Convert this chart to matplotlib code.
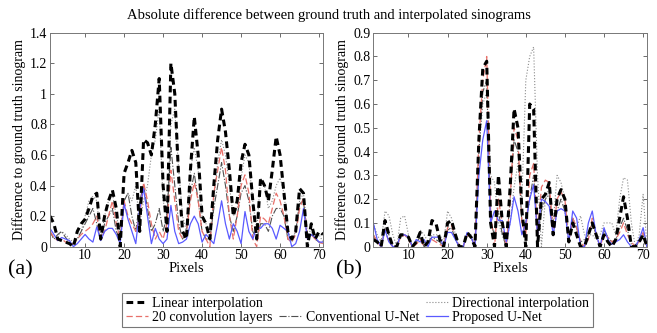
import numpy as np
import matplotlib
matplotlib.use("Agg")
from matplotlib import pyplot as plt
from matplotlib.lines import Line2D

plt.rcParams['font.family'] = ['Liberation Serif', 'DejaVu Serif']

pixels = np.arange(1, 72)

# panel (a)
linear_a = [0.2, 0.15, 0.05, 0.04, 0.03, 0.02, 0.0, 0.1, 0.15, 0.18,
            0.25, 0.33, 0.35, 0.05, 0.2, 0.3, 0.37, 0.25, 0.0, 0.48,
            0.55, 0.63, 0.55, 0.1, 0.7, 0.68, 0.6, 0.8, 1.1, 0.4,
            0.1, 1.2, 1.0, 0.45, 0.1, 0.05, 0.5, 0.85, 0.6, 0.2,
            0.15, 0.05, 0.4, 0.7, 0.9, 0.75, 0.5, 0.2, 0.3, 0.55,
            0.67, 0.6, 0.3, 0.05, 0.45, 0.4, 0.3, 0.5, 0.72, 0.6,
            0.35, 0.1, 0.05, 0.1, 0.38, 0.35, 0.0, 0.15, 0.05, 0.1, 0.08]
directional_a = [0.1, 0.05, 0.07, 0.1, 0.08, 0.05, 0.03, 0.05, 0.1, 0.2,
                 0.3, 0.33, 0.3, 0.05, 0.2, 0.3, 0.35, 0.2, 0.1, 0.3,
                 0.35, 0.3, 0.4, 0.15, 0.3, 0.4, 0.6, 0.7, 0.9, 0.3,
                 0.2, 0.8, 0.9, 0.5, 0.2, 0.1, 0.5, 0.65, 0.5, 0.2,
                 0.15, 0.1, 0.3, 0.55, 0.7, 0.6, 0.4, 0.2, 0.25, 0.45,
                 0.6, 0.55, 0.3, 0.1, 0.45, 0.4, 0.25, 0.3, 0.4, 0.45,
                 0.35, 0.1, 0.05, 0.1, 0.3, 0.35, 0.1, 0.1, 0.05, 0.08, 0.03]
conv20_a = [0.1, 0.06, 0.04, 0.05, 0.03, 0.02, 0.02, 0.05, 0.08, 0.1,
            0.12, 0.15, 0.2, 0.05, 0.1, 0.2, 0.3, 0.15, 0.05, 0.3,
            0.2, 0.15, 0.1, 0.2, 0.42, 0.3, 0.15, 0.05, 0.1, 0.05,
            0.15, 0.5, 0.3, 0.1, 0.05, 0.1, 0.3, 0.42, 0.3, 0.1,
            0.05, 0.0, 0.35, 0.5, 0.65, 0.5, 0.2, 0.05, 0.2, 0.4,
            0.47, 0.35, 0.05, 0.0, 0.2, 0.18, 0.15, 0.25, 0.35, 0.3,
            0.2, 0.05, 0.03, 0.08, 0.25, 0.32, 0.05, 0.08, 0.05, 0.03, 0.02]
unet_a = [0.1, 0.05, 0.08, 0.1, 0.06, 0.03, 0.02, 0.05, 0.1, 0.15,
          0.2, 0.25, 0.15, 0.05, 0.15, 0.2, 0.25, 0.1, 0.05, 0.3,
          0.35, 0.2, 0.1, 0.3, 0.4, 0.25, 0.1, 0.15, 0.25, 0.1,
          0.2, 0.65, 0.4, 0.15, 0.05, 0.1, 0.35, 0.48, 0.3, 0.1,
          0.05, 0.05, 0.25, 0.4, 0.55, 0.4, 0.2, 0.1, 0.2, 0.35,
          0.4, 0.3, 0.1, 0.05, 0.15, 0.15, 0.1, 0.2, 0.25, 0.25,
          0.2, 0.05, 0.03, 0.1, 0.28, 0.3, 0.05, 0.08, 0.05, 0.03, 0.02]
proposed_a = [0.12, 0.08, 0.04, 0.06, 0.05, 0.04, 0.0, 0.02, 0.05, 0.08,
              0.05, 0.03, 0.13, 0.04, 0.1, 0.12, 0.12, 0.08, 0.02, 0.28,
              0.18, 0.1, 0.02, 0.25, 0.38, 0.2, 0.02, 0.12, 0.05, 0.02,
              0.05, 0.27, 0.1, 0.02, 0.03, 0.05, 0.15, 0.2, 0.15, 0.03,
              0.08, 0.05, 0.02, 0.15, 0.3, 0.15, 0.05, 0.15, 0.1, 0.02,
              0.23, 0.1, 0.05, 0.13, 0.12, 0.15, 0.15, 0.12, 0.05, 0.14,
              0.12, 0.1, 0.0, 0.02, 0.1, 0.25, 0.05, 0.08, 0.06, 0.03, 0.03]

# panel (b)
linear_b = [0.03, 0.02, 0.0, 0.11, 0.05, 0.0, 0.0, 0.05, 0.05, 0.04,
            0.0, 0.02, 0.06, 0.0, 0.02, 0.11, 0.1, 0.03, 0.0, 0.1,
            0.11, 0.05, 0.0, 0.0, 0.06, 0.04, 0.0, 0.45, 0.75, 0.78,
            0.1, 0.0, 0.3, 0.1, 0.0, 0.25, 0.58, 0.5, 0.15, 0.0,
            0.6, 0.58, 0.0, 0.2, 0.22, 0.27, 0.05, 0.2, 0.24, 0.2,
            0.02, 0.1, 0.05, 0.0, 0.0, 0.05, 0.1, 0.05, 0.0, 0.05,
            0.02, 0.0, 0.03, 0.12, 0.21, 0.12, 0.0, 0.0, 0.02, 0.05, 0.0]
directional_b = [0.1, 0.05, 0.02, 0.15, 0.13, 0.05, 0.0, 0.12, 0.13, 0.05,
                 0.0, 0.03, 0.07, 0.05, 0.02, 0.05, 0.05, 0.05, 0.02, 0.15,
                 0.12, 0.05, 0.0, 0.0, 0.05, 0.05, 0.0, 0.4, 0.6, 0.65,
                 0.3, 0.27, 0.1, 0.05, 0.02, 0.1, 0.25, 0.35, 0.2, 0.7,
                 0.8, 0.84, 0.3, 0.0, 0.2, 0.25, 0.1, 0.3, 0.27, 0.2,
                 0.05, 0.1, 0.08, 0.13, 0.05, 0.05, 0.05, 0.03, 0.05, 0.1,
                 0.1, 0.1, 0.05, 0.2, 0.29, 0.28, 0.1, 0.0, 0.05, 0.22, 0.0]
conv20_b = [0.05, 0.02, 0.0, 0.07, 0.02, 0.0, 0.0, 0.04, 0.05, 0.03,
            0.0, 0.01, 0.03, 0.0, 0.02, 0.03, 0.02, 0.01, 0.0, 0.08,
            0.09, 0.04, 0.0, 0.0, 0.05, 0.04, 0.0, 0.45, 0.7, 0.8,
            0.15, 0.0, 0.2, 0.1, 0.0, 0.2, 0.5, 0.45, 0.1, 0.05,
            0.3, 0.35, 0.05, 0.25, 0.28, 0.27, 0.05, 0.2, 0.23, 0.2,
            0.02, 0.12, 0.08, 0.02, 0.0, 0.03, 0.12, 0.05, 0.0, 0.05,
            0.04, 0.02, 0.03, 0.06, 0.1, 0.05, 0.02, 0.0, 0.02, 0.06, 0.0]
unet_b = [0.05, 0.02, 0.0, 0.08, 0.05, 0.0, 0.0, 0.05, 0.05, 0.04,
          0.0, 0.02, 0.04, 0.0, 0.02, 0.04, 0.03, 0.02, 0.0, 0.07,
          0.08, 0.03, 0.0, 0.0, 0.05, 0.04, 0.0, 0.4, 0.65, 0.7,
          0.1, 0.05, 0.15, 0.05, 0.0, 0.2, 0.45, 0.4, 0.1, 0.1,
          0.2, 0.3, 0.05, 0.15, 0.2, 0.22, 0.05, 0.15, 0.2, 0.15,
          0.02, 0.12, 0.08, 0.02, 0.03, 0.05, 0.1, 0.05, 0.0, 0.07,
          0.04, 0.02, 0.03, 0.08, 0.12, 0.07, 0.01, 0.0, 0.02, 0.05, 0.0]
proposed_b = [0.1, 0.03, 0.0, 0.07, 0.02, 0.0, 0.0, 0.05, 0.05, 0.04,
              0.0, 0.03, 0.02, 0.03, 0.0, 0.04, 0.04, 0.04, 0.0, 0.06,
              0.06, 0.03, 0.0, 0.0, 0.06, 0.04, 0.0, 0.3, 0.45, 0.53,
              0.1, 0.15, 0.11, 0.11, 0.02, 0.1, 0.21, 0.15, 0.05, 0.1,
              0.2, 0.26, 0.05, 0.2, 0.19, 0.17, 0.05, 0.15, 0.16, 0.15,
              0.02, 0.15, 0.12, 0.0, 0.0, 0.1, 0.15, 0.05, 0.0, 0.08,
              0.03, 0.01, 0.02, 0.03, 0.05, 0.02, 0.0, 0.0, 0.03, 0.08, 0.0]

labels = ['Linear interpolation', 'Directional interpolation',
          '20 convolution layers', 'Conventional U-Net', 'Proposed U-Net']
styles = [dict(color='black', lw=2.2, ls=(0, (2.2, 1.4))),
          dict(color='#8a8a8a', lw=0.8, ls=':'),
          dict(color='#e8706a', lw=0.9, ls=(0, (5, 2.5))),
          dict(color='#505050', lw=0.8, ls='-.'),
          dict(color='#5a5aff', lw=0.9, ls='-')]

fig = plt.figure(figsize=(6.57, 3.33), dpi=100)
ax1 = fig.add_axes([0.0761, 0.2592, 0.4155, 0.6426])
ax2 = fig.add_axes([0.5682, 0.2592, 0.4166, 0.6426])

panels = [(ax1, [linear_a, directional_a, conv20_a, unet_a, proposed_a], 1.4, 0.2),
          (ax2, [linear_b, directional_b, conv20_b, unet_b, proposed_b], 0.9, 0.1)]

handles = {}
for ax, series, ymax, step in panels:
    # thin lines first, thick black one on top
    for idx in [1, 3, 2, 4, 0]:
        h, = ax.plot(pixels, series[idx], label=labels[idx], **styles[idx])
        handles[idx] = h
    ax.set_xlim(1, 71)
    ax.set_ylim(0, ymax)
    ax.set_xticks([10, 20, 30, 40, 50, 60, 70])
    yt = np.round(np.arange(0, ymax + 1e-9, step), 2)
    ax.set_yticks(yt)
    ax.set_yticklabels([('%g' % v) for v in yt])
    ax.tick_params(direction='in', top=True, right=True, labelsize=10,
                   length=3, width=0.6, color='#555555', pad=2)
    for sp in ax.spines.values():
        sp.set_color('#777777')
        sp.set_linewidth(0.7)
    ax.set_xlabel('Pixels', fontsize=10.5, labelpad=0)
    ax.set_ylabel('Difference to ground truth sinogram', fontsize=10, labelpad=3)

fig.text(0.5, 0.955, 'Absolute difference between ground truth and interpolated sinograms',
         ha='center', va='center', fontsize=10.5)
fig.text(0.012, 0.19, '(a)', fontsize=16, va='center')
fig.text(0.512, 0.19, '(b)', fontsize=16, va='center')

blank = Line2D([], [], alpha=0)
leg = fig.legend([handles[0], handles[2], blank, handles[3], handles[1], handles[4]],
                 [labels[0], labels[2], '', labels[3], labels[1], labels[4]],
                 ncol=3, loc='lower center',
                 bbox_to_anchor=(0.544, 0.018),
                 fontsize=10, frameon=True, fancybox=False,
                 handlelength=1.6, handletextpad=0.3, columnspacing=0.5,
                 labelspacing=0.05, borderpad=0.25, borderaxespad=0)
leg.get_frame().set_edgecolor('#555555')
leg.get_frame().set_linewidth(0.8)

plt.savefig('out.png', dpi=100)
